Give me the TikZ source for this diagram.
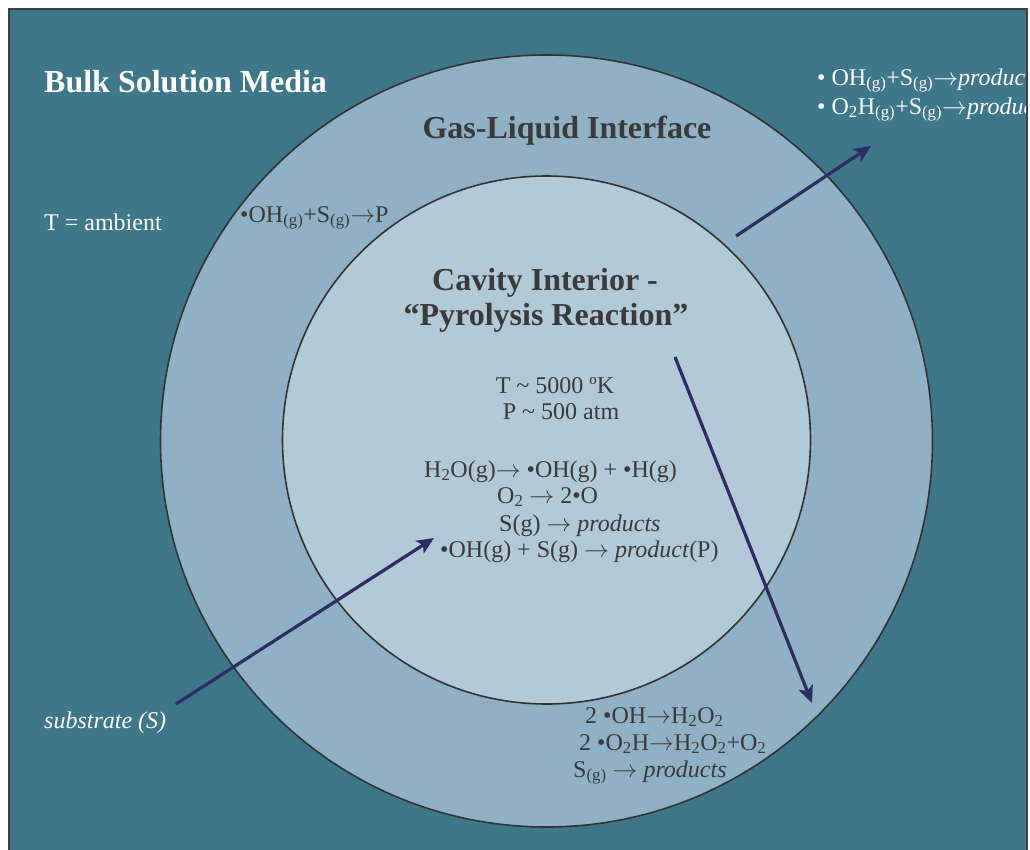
\documentclass[tikz,border=0pt]{standalone}
\usepackage{fontspec}
\setmainfont{Liberation Serif}
\usetikzlibrary{arrows.meta}
\definecolor{bgteal}{HTML}{3D7789}
\definecolor{ringcol}{HTML}{8FB0C5}
\definecolor{corecol}{HTML}{B2C9D7}
\definecolor{darktxt}{HTML}{3A3A3A}
\definecolor{navy}{HTML}{2E2C63}
\definecolor{framecol}{HTML}{404040}
\definecolor{edgecol}{HTML}{333333}
\newcommand{\gsub}{\textsubscript{(g)}}
\newcommand{\tsub}[1]{\textsubscript{#1}}
\newcommand{\ar}{\ensuremath{\rightarrow}}
\tikzset{
  titletxt/.style={font=\fontsize{32}{36}\selectfont\bfseries, text=darktxt, inner sep=0pt},
  bodytxt/.style={font=\fontsize{24}{27}\selectfont, text=darktxt, inner sep=0pt},
  whitetxt/.style={font=\fontsize{24}{27}\selectfont, text=white, inner sep=0pt},
  disc/.style={circle, draw=edgecol, line width=1.6pt, inner sep=0pt},
  flow/.style={draw=navy, line width=3.2pt, -{Stealth[length=17pt,width=15pt,inset=4pt]}},
}
\begin{document}
\begin{tikzpicture}[x=1pt,y=-1pt]
\useasboundingbox (0,0) rectangle (1030,849);
\clip (0,0) rectangle (1030,849);
\fill[bgteal] (9,9) rectangle (1027,870);
\begin{scope}
\clip (9,9) rectangle (1027,870);
\node[disc, fill=ringcol, minimum size=772pt] (outer) at (546.5,441) {};
\node[disc, fill=corecol, minimum size=528pt] (inner) at (546.5,440) {};

\node[titletxt, text=white, anchor=base west] (bulk) at (44,92) {Bulk Solution Media};
\node[titletxt, anchor=base] (gli) at (567,138) {Gas-Liquid Interface};
\node[titletxt, anchor=base] (cav1) at (545,290) {Cavity Interior -};
\node[titletxt, anchor=base] (cav2) at (546,325) {“Pyrolysis Reaction”};

\node[whitetxt, anchor=base west] (tamb) at (44,230) {T = ambient};
\node[bodytxt, anchor=base west] (ohs) at (240,222) {•OH\gsub+S\gsub\ar P};

\node[bodytxt, anchor=base] (t5000) at (555,393) {T \char`~\ 5000 ºK};
\node[bodytxt, anchor=base] (p500) at (561,419) {P \char`~\ 500 atm};
\node[bodytxt, anchor=base west] (h2o) at (424,477) {H\tsub{2}O(g)\ar\ •OH(g) + •H(g)};
\node[bodytxt, anchor=base west] (o2) at (497,503) {O\tsub{2} \ar\ 2•O};
\node[bodytxt, anchor=base west] (sg) at (499,531) {S(g) \ar\ \textit{products}};
\node[bodytxt, anchor=base west] (ohsg) at (440,557) {•OH(g) + S(g) \ar\ \textit{product}(P)};

\node[whitetxt, anchor=base west] (tr1) at (817,85) {• OH\gsub+S\gsub\ar\textit{products}};
\node[whitetxt, anchor=base west] (tr2) at (817,114) {• O\tsub{2}H\gsub+S\gsub\ar\textit{products}};

\node[whitetxt, anchor=base west, font=\fontsize{24}{27}\selectfont\itshape] (subs) at (44,728) {substrate (S)};

\node[bodytxt, anchor=base west] (b1) at (585,723) {2 •OH\ar H\tsub{2}O\tsub{2}};
\node[bodytxt, anchor=base west] (b2) at (579,750) {2 •O\tsub{2}H\ar H\tsub{2}O\tsub{2}+O\tsub{2}};
\node[bodytxt, anchor=base west] (b3) at (573,777) {S\gsub\ \ar\ \textit{products}};

\coordinate (a1s) at (736,236);
\coordinate (a1e) at (871,146);
\coordinate (a2s) at (675,357);
\coordinate (a2e) at (812,703);
\coordinate (a3s) at (176,704);
\coordinate (a3e) at (434,538);
\draw[flow] (a1s) -- (a1e);
\draw[flow] (a2s) -- (a2e);
\draw[flow] (a3s) -- (a3e);
\end{scope}
\draw[framecol, line width=2pt] (9,870) -- (9,9) -- (1027,9) -- (1027,870);
\end{tikzpicture}
\end{document}
